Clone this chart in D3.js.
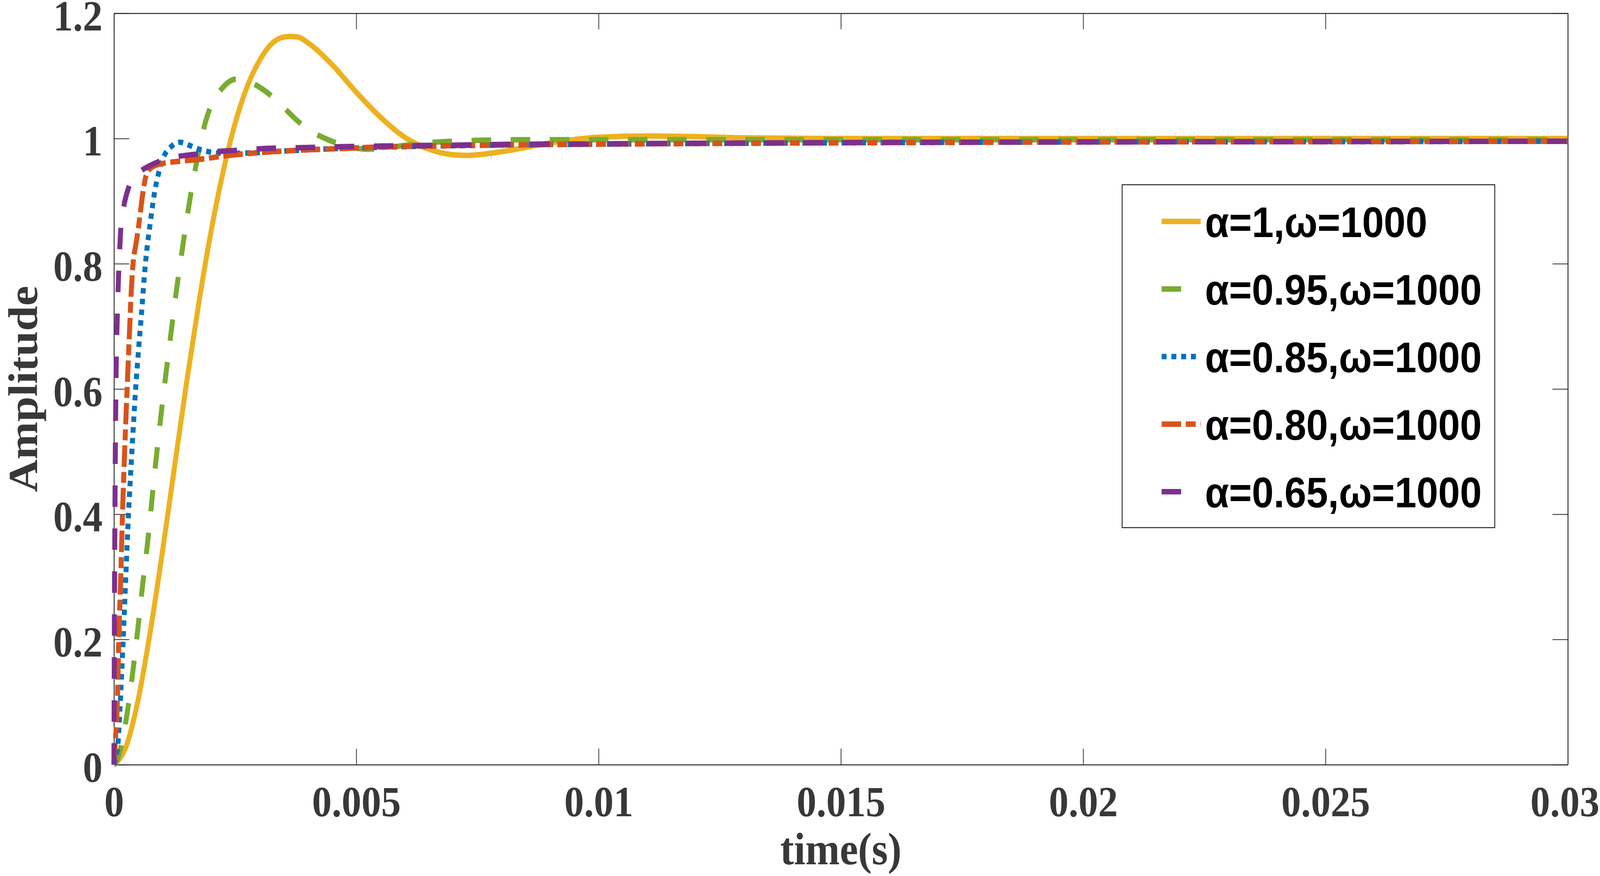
<!DOCTYPE html>
<html>
<head>
<meta charset="utf-8">
<script src="https://cdn.jsdelivr.net/npm/d3@7/dist/d3.min.js"></script>
<style>
  html, body { margin: 0; padding: 0; background: #fff; overflow: hidden; }
  svg { display: block; width: 100vw; height: 100vh; }
</style>
</head>
<body>
<div id="chart"></div>
<script>
var svgWidth = 4500;
var svgHeight = 2243;

// ---- data (time in seconds) ----
var xTicks = [0, 0.005, 0.01, 0.015, 0.02, 0.025, 0.03];
var xTickLabels = ["0", "0.005", "0.01", "0.015", "0.02", "0.025", "0.03"];
var yTicks = [0, 0.2, 0.4, 0.6, 0.8, 1, 1.2];
var yTickLabels = ["0", "0.2", "0.4", "0.6", "0.8", "1", "1.2"];

var legendLabels = ["α=1,ω=1000", "α=0.95,ω=1000", "α=0.85,ω=1000", "α=0.80,ω=1000", "α=0.65,ω=1000"];

var tA100 = [0, 0.00025, 0.0005, 0.00075, 0.001, 0.00125, 0.0015, 0.00175, 0.002, 0.00225, 0.0025, 0.00275, 0.003, 0.00325, 0.0035, 0.00365, 0.0038, 0.004, 0.0045, 0.005, 0.0055, 0.006, 0.0065, 0.007, 0.0073, 0.0075, 0.008, 0.009, 0.01, 0.011, 0.012, 0.013, 0.015, 0.02, 0.025, 0.03];
var yA100 = [0, 0.029, 0.104, 0.213, 0.340, 0.476, 0.611, 0.737, 0.850, 0.946, 1.024, 1.083, 1.124, 1.151, 1.162, 1.163, 1.162, 1.153, 1.118, 1.074, 1.034, 1.002, 0.983, 0.974, 0.973, 0.974, 0.979, 0.993, 1.002, 1.004, 1.003, 1.001, 1.0, 1.0, 1.0, 1.0];

var tA095 = [0, 0.00005, 0.00012, 0.00027, 0.00039, 0.00049, 0.00059, 0.00069, 0.00078, 0.00087, 0.00097, 0.00113, 0.00131, 0.00142, 0.00153, 0.0017, 0.00189, 0.00205, 0.00223, 0.0024, 0.00253, 0.0027, 0.0031, 0.0035, 0.00372, 0.004, 0.00442, 0.0048, 0.00523, 0.0056, 0.006, 0.0068, 0.0084, 0.01, 0.012, 0.015, 0.02, 0.025, 0.03];
var yA095 = [0, 0.004, 0.021, 0.081, 0.149, 0.215, 0.286, 0.352, 0.42, 0.488, 0.558, 0.66, 0.769, 0.828, 0.885, 0.96, 1.027, 1.06, 1.08, 1.092, 1.095, 1.093, 1.077, 1.05, 1.033, 1.015, 0.998, 0.988, 0.983, 0.985, 0.989, 0.995, 0.998, 0.998, 0.998, 0.998, 0.998, 0.998, 0.998];

var tA085 = [0, 0.00004, 0.00008, 0.000125, 0.00019, 0.0003, 0.00037, 0.000445, 0.00051, 0.00057, 0.00062, 0.000675, 0.00074, 0.00083, 0.00091, 0.00104, 0.00118, 0.00136, 0.00156, 0.00175, 0.00195, 0.00234, 0.0028, 0.0033, 0.004, 0.005, 0.006, 0.008, 0.01, 0.013, 0.016, 0.02, 0.025, 0.03];
var yA085 = [0, 0.012, 0.032, 0.091, 0.2, 0.4, 0.5, 0.597, 0.665, 0.722, 0.774, 0.82, 0.86, 0.91, 0.941, 0.973, 0.987, 0.994, 0.989, 0.983, 0.979, 0.976, 0.977, 0.979, 0.982, 0.985, 0.987, 0.9895, 0.991, 0.9925, 0.9935, 0.9945, 0.995, 0.9956];

var tA080 = [0, 0.00003, 0.000066, 0.0001, 0.00014, 0.000176, 0.00022, 0.00027, 0.00032, 0.00036, 0.0004, 0.00045, 0.0005, 0.00055, 0.0006, 0.00065, 0.0007, 0.0008, 0.001, 0.0014, 0.0018, 0.00226, 0.003, 0.0039, 0.0047, 0.0055, 0.0071, 0.008, 0.01, 0.013, 0.016, 0.02, 0.025, 0.03];
var yA080 = [0, 0.04, 0.09, 0.2, 0.3, 0.4, 0.5, 0.597, 0.69, 0.76, 0.805, 0.83, 0.855, 0.885, 0.915, 0.937, 0.947, 0.955, 0.96, 0.964, 0.967, 0.972, 0.9775, 0.9817, 0.984, 0.9864, 0.9888, 0.9896, 0.991, 0.9925, 0.9935, 0.9945, 0.995, 0.9956];

var tA065 = [0, 0.000008, 0.00002, 0.00004, 0.00007, 0.00009, 0.00012, 0.00014, 0.0002, 0.0003, 0.0004, 0.00057, 0.00075, 0.00092, 0.0013, 0.0017, 0.0021, 0.0025, 0.0031, 0.0039, 0.00473, 0.0055, 0.0063, 0.0071, 0.0079, 0.01, 0.013, 0.016, 0.02, 0.025, 0.03];
var yA065 = [0, 0.2, 0.4, 0.6, 0.72, 0.77, 0.825, 0.855, 0.89, 0.921, 0.937, 0.949, 0.957, 0.963, 0.971, 0.975, 0.979, 0.981, 0.984, 0.9855, 0.987, 0.988, 0.9888, 0.9895, 0.9905, 0.9915, 0.9928, 0.9938, 0.9946, 0.9952, 0.9956];

var seriesColors = ["#EDB120", "#77AC30", "#0072BD", "#D95319", "#7E2F8E"];
var seriesDashes = ["none", "55,55", "14,13.5", "55,13,28,13", "55,55"];

var series = [
  { t: tA100, y: yA100 },
  { t: tA095, y: yA095 },
  { t: tA085, y: yA085 },
  { t: tA080, y: yA080 },
  { t: tA065, y: yA065 }
];

// ---- layout (4500x2243 user space, stretched to fill the window) ----
var plot = { left: 320.5, right: 4409.5, top: 34, bottom: 1958 };
var axisColor = "#262626";
var labelColor = "#383838";
var lineW = 14;
var serif = "'Liberation Serif', 'Times New Roman', serif";

var svg = d3.select("#chart")
    .append("svg")
    .attr("viewBox", "0 0 " + svgWidth + " " + svgHeight)
    .attr("preserveAspectRatio", "none");

svg.append("rect")
    .attr("width", svgWidth)
    .attr("height", svgHeight)
    .attr("fill", "#fff");

var x = d3.scaleLinear().domain([0, 0.03]).range([plot.left, plot.right]);
var y = d3.scaleLinear().domain([0, 1.2]).range([plot.bottom, plot.top]);

// axes: ticks point inward on all four sides (matlab box)
var bottomAxis = d3.axisBottom(x).tickValues(xTicks)
    .tickFormat(function(d, i) { return xTickLabels[i]; })
    .tickSizeInner(-41).tickSizeOuter(0).tickPadding(53);
var topAxis = d3.axisTop(x).tickValues(xTicks).tickFormat("")
    .tickSizeInner(-41).tickSizeOuter(0);
var leftAxis = d3.axisLeft(y).tickValues(yTicks)
    .tickFormat(function(d, i) { return yTickLabels[i]; })
    .tickSizeInner(-43).tickSizeOuter(0).tickPadding(32);
var rightAxis = d3.axisRight(y).tickValues(yTicks).tickFormat("")
    .tickSizeInner(-43).tickSizeOuter(0);

function styleAxis(g) {
  g.selectAll("path").attr("stroke", axisColor).attr("stroke-width", 2.5);
  g.selectAll("line").attr("stroke", axisColor).attr("stroke-width", 2);
  g.selectAll("text")
      .attr("fill", labelColor)
      .style("font-family", serif)
      .style("font-weight", "bold")
      .style("font-size", "111px");
}

var gx = svg.append("g").attr("transform", "translate(0," + plot.bottom + ")").call(bottomAxis).call(styleAxis);
svg.append("g").attr("transform", "translate(0," + plot.top + ")").call(topAxis).call(styleAxis);
var gy = svg.append("g").attr("transform", "translate(" + plot.left + ",0)").call(leftAxis).call(styleAxis);
svg.append("g").attr("transform", "translate(" + plot.right + ",0)").call(rightAxis).call(styleAxis);

// labels sit a few px below their ticks, like the original
gy.selectAll(".tick text").attr("dy", "0.39em");
// the last x label runs up to the page edge; keep it inside
gx.selectAll(".tick text").filter(function(d) { return d === 0.03; })
    .attr("text-anchor", "end")
    .attr("x", svgWidth - 2 - plot.right);

// curves
var line = d3.line()
    .x(function(d) { return x(d[0]); })
    .y(function(d) { return y(d[1]); })
    .curve(d3.curveMonotoneX);

series.forEach(function(s, i) {
  var pts = s.t.map(function(t, k) { return [t, s.y[k]]; });
  svg.append("path")
      .datum(pts)
      .attr("d", line)
      .attr("fill", "none")
      .attr("stroke", seriesColors[i])
      .attr("stroke-width", lineW)
      .attr("stroke-dasharray", seriesDashes[i])
      .attr("stroke-linejoin", "round");
});

// axis titles
svg.append("text")
    .attr("x", (plot.left + plot.right) / 2)
    .attr("y", 2213)
    .attr("text-anchor", "middle")
    .attr("fill", labelColor)
    .style("font-family", serif)
    .style("font-weight", "bold")
    .style("font-size", "116px")
    .text("time(s)");

svg.append("text")
    .attr("transform", "translate(104," + ((plot.top + plot.bottom) / 2) + ") rotate(-90)")
    .attr("text-anchor", "middle")
    .attr("fill", labelColor)
    .style("font-family", serif)
    .style("font-weight", "bold")
    .style("font-size", "116px")
    .text("Amplitude");

// legend
var legend = svg.append("g");
legend.append("rect")
    .attr("x", 3156).attr("y", 473)
    .attr("width", 1048).attr("height", 878)
    .attr("fill", "#fff")
    .attr("stroke", axisColor)
    .attr("stroke-width", 2.5);

var rowY = d3.scaleLinear().domain([0, 4]).range([567, 1259]);

legendLabels.forEach(function(lbl, i) {
  var ly = rowY(i);
  legend.append("line")
      .attr("x1", 3267).attr("x2", 3377)
      .attr("y1", ly).attr("y2", ly)
      .attr("stroke", seriesColors[i])
      .attr("stroke-width", lineW)
      .attr("stroke-dasharray", seriesDashes[i]);
  legend.append("text")
      .attr("x", 3389)
      .attr("y", ly + 40)
      .attr("fill", "#000")
      .style("font-family", "'Liberation Sans', Arial, sans-serif")
      .style("font-weight", "bold")
      .style("font-size", "110px")
      .text(lbl);
});
</script>
</body>
</html>
